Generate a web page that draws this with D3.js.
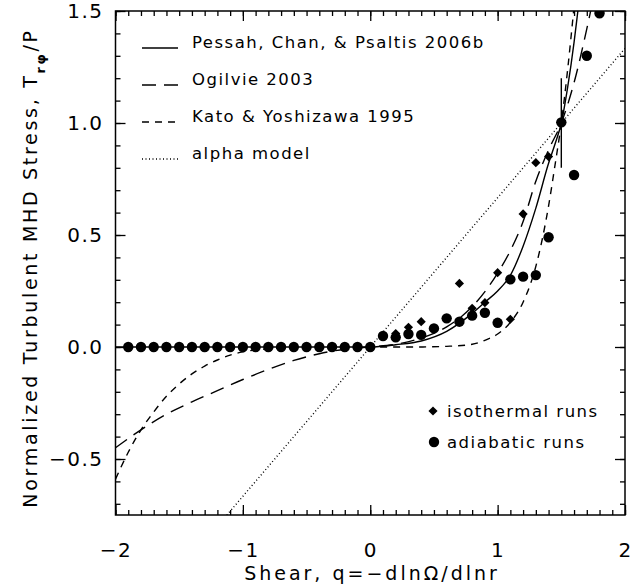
<!DOCTYPE html>
<html>
<head>
<meta charset="utf-8">
<script src="https://cdn.jsdelivr.net/npm/d3@7"></script>
<style>
    body { margin: 0; background: white; }
    svg { display: block; }
    text { font-family: "DejaVu Sans", sans-serif; fill: black; }
</style>
</head>
<body>
<div id="chart"></div>
<script>
// values
const xTicks = [-2, -1, 0, 1, 2];
const yTicks = [-0.5, 0.0, 0.5, 1.0, 1.5];

// adiabatic runs (circles)
const adiabaticQ = [-1.9, -1.8, -1.7, -1.6, -1.5, -1.4, -1.3, -1.2, -1.1, -1.0,
    -0.9, -0.8, -0.7, -0.6, -0.5, -0.4, -0.3, -0.2, -0.1, 0.0,
    0.1, 0.2, 0.3, 0.4, 0.5, 0.6, 0.7, 0.8, 0.9, 1.0, 1.1, 1.2, 1.3, 1.4, 1.5, 1.6, 1.7, 1.8];
const adiabaticT = [0, 0, 0, 0, 0, 0, 0, 0, 0, 0,
    0, 0, 0, 0, 0, 0, 0, 0, 0, 0,
    0.049, 0.043, 0.058, 0.054, 0.083, 0.128, 0.113, 0.140, 0.153, 0.108,
    0.302, 0.314, 0.321, 0.490, 1.003, 0.768, 1.30, 1.49];

// isothermal runs (diamonds)
const isothermalQ = [0.2, 0.3, 0.4, 0.7, 0.8, 0.9, 1.0, 1.1, 1.2, 1.3, 1.4];
const isothermalT = [0.06, 0.088, 0.113, 0.284, 0.173, 0.198, 0.332, 0.124, 0.594, 0.823, 0.85];

// error bar on the q = 1.5 normalisation point
const errQ = [1.5];
const errLow = [0.8];
const errHigh = [1.2];

// model curves
const pessahQ = [-2, -1, -0.5, 0, 0.2, 0.4, 0.6, 0.8, 0.9, 1.0, 1.1, 1.2, 1.3, 1.4, 1.45, 1.5, 1.55, 1.6, 1.63, 1.66];
const pessahT = [0, 0, 0, 0, 0.01, 0.027, 0.07, 0.15, 0.2, 0.25, 0.32, 0.45, 0.62, 0.82, 0.905, 1.0, 1.16, 1.36, 1.5, 1.64];

const ogilvieQ = [-2, -1.8, -1.6, -1.4, -1.2, -1.0, -0.8, -0.6, -0.4, -0.2, 0, 0.2, 0.4, 0.6, 0.8, 1.0, 1.1, 1.2, 1.3, 1.4, 1.5, 1.6, 1.7, 1.76];
const ogilvieT = [-0.45, -0.37, -0.30, -0.245, -0.195, -0.145, -0.10, -0.06, -0.03, -0.01, 0, 0.012, 0.04, 0.09, 0.18, 0.33, 0.43, 0.56, 0.74, 0.88, 1.0, 1.18, 1.42, 1.58];

const katoQ = [-2, -1.9, -1.8, -1.7, -1.6, -1.5, -1.4, -1.3, -1.2, -1.1, -1.0, -0.8, -0.6, -0.4, 0,
    0.4, 0.6, 0.8, 0.9, 1.0, 1.1, 1.2, 1.3, 1.35, 1.4, 1.45, 1.5, 1.55, 1.6];
const katoT = [-0.59, -0.47, -0.37, -0.29, -0.22, -0.165, -0.12, -0.085, -0.058, -0.036, -0.022, -0.008, -0.003, -0.001, 0,
    0.0003, 0.003, 0.012, 0.03, 0.058, 0.11, 0.2, 0.36, 0.48, 0.63, 0.81, 1.0, 1.24, 1.52];

const alphaQ = [-2, 2];
const alphaT = [-1.333, 1.333];

const legendNames = ["Pessah, Chan, & Psaltis 2006b", "Ogilvie 2003", "Kato & Yoshizawa 1995", "alpha model"];
const legendDash = ["none", "14,8", "7,6", "1,2.5"];

class ShearStressChart {

    constructor(el, props)
    {
        this.element = el;
        this.props = props;
        this.createChart();
    }

    createChart()
    {
        let me = this;
        this.svg = d3.select(me.element).append('svg')
                .attr('width', me.props.width)
                .attr('height', me.props.height);

        this.x = d3.scaleLinear().domain([-2, 2]).range([115.5, 625]);
        this.y = d3.scaleLinear().domain([-0.75, 1.5]).range([515, 11]);

        this.svg.append('defs')
                .append('clipPath')
                .attr('id', 'plotClip')
                .append('rect')
                .attr('x', 115.5)
                .attr('y', 11)
                .attr('width', 625 - 115.5)
                .attr('height', 515 - 11);

        this.drawAxes();
        this.drawCurves();
        this.drawPoints();
        this.drawLegend();
    }

    drawAxes()
    {
        let self = this;
        let x = self.x, y = self.y;
        let minorX = d3.range(-20, 21).map(d => d / 10);
        let minorY = d3.range(-7, 16).map(d => d / 10);

        // minor ticks on all four sides
        self.svg.append('g').attr('transform', 'translate(0,515)')
                .call(d3.axisBottom(x).tickValues(minorX).tickSize(-5).tickFormat(''));
        self.svg.append('g').attr('transform', 'translate(0,11)')
                .call(d3.axisTop(x).tickValues(minorX).tickSize(-5).tickFormat(''));
        self.svg.append('g').attr('transform', 'translate(115.5,0)')
                .call(d3.axisLeft(y).tickValues(minorY).tickSize(-5).tickFormat(''));
        self.svg.append('g').attr('transform', 'translate(625,0)')
                .call(d3.axisRight(y).tickValues(minorY).tickSize(-5).tickFormat(''));

        // major ticks with labels
        self.svg.append('g').attr('class', 'x-axis').attr('transform', 'translate(0,515)')
                .call(d3.axisBottom(x).tickValues(xTicks).tickSize(-10).tickPadding(28).tickFormat(d3.format('d')));
        self.svg.append('g').attr('transform', 'translate(0,11)')
                .call(d3.axisTop(x).tickValues(xTicks).tickSize(-10).tickFormat(''));
        self.svg.append('g').attr('class', 'y-axis').attr('transform', 'translate(115.5,0)')
                .call(d3.axisLeft(y).tickValues(yTicks).tickSize(-10).tickPadding(12).tickFormat(d3.format('.1f')));
        self.svg.append('g').attr('transform', 'translate(625,0)')
                .call(d3.axisRight(y).tickValues(yTicks).tickSize(-10).tickFormat(''));

        self.svg.selectAll('.domain').remove();
        self.svg.selectAll('.tick line').attr('stroke', 'black').attr('stroke-width', 1.3);
        self.svg.selectAll('.x-axis text, .y-axis text')
                .style('font-size', '20px')
                .style('letter-spacing', '1.5px')
                .attr('fill', 'black');

        self.svg.append('rect')
                .attr('x', 115.5).attr('y', 11)
                .attr('width', 625 - 115.5).attr('height', 515 - 11)
                .attr('fill', 'none')
                .attr('stroke', 'black')
                .attr('stroke-width', 1.5);

        // axis titles
        self.svg.append('text')
                .attr('x', 372).attr('y', 580)
                .attr('text-anchor', 'middle')
                .style('font-size', '19px')
                .style('letter-spacing', '3px')
                .text('Shear,  q=\u2212dln\u03A9/dlnr');

        let yt = self.svg.append('text')
                .attr('transform', 'translate(37,268) rotate(-90)')
                .attr('text-anchor', 'middle')
                .style('font-size', '19px')
                .style('letter-spacing', '2.7px');
        yt.append('tspan').text('Normalized Turbulent MHD Stress, T');
        yt.append('tspan').attr('baseline-shift', 'sub').style('font-size', '13px').style('font-weight', 'bold').text('r\u03C6');
        yt.append('tspan').text('/P');
    }

    drawCurves()
    {
        let self = this;
        let g = self.svg.append('g').attr('clip-path', 'url(#plotClip)');
        let line = d3.line()
                .x(d => self.x(d[0]))
                .y(d => self.y(d[1]))
                .curve(d3.curveMonotoneX);

        let curves = [
            {q: pessahQ, t: pessahT, dash: legendDash[0]},
            {q: ogilvieQ, t: ogilvieT, dash: legendDash[1]},
            {q: katoQ, t: katoT, dash: legendDash[2]},
            {q: alphaQ, t: alphaT, dash: legendDash[3]}
        ];

        g.selectAll('path.model')
                .data(curves)
                .enter()
                .append('path')
                .attr('class', 'model')
                .attr('d', c => line(d3.zip(c.q, c.t)))
                .attr('fill', 'none')
                .attr('stroke', 'black')
                .attr('stroke-width', 1.4)
                .attr('stroke-dasharray', c => c.dash);

        g.selectAll('line.err')
                .data(errQ)
                .enter()
                .append('line')
                .attr('class', 'err')
                .attr('x1', d => self.x(d)).attr('x2', d => self.x(d))
                .attr('y1', (d, i) => self.y(errLow[i]))
                .attr('y2', (d, i) => self.y(errHigh[i]))
                .attr('stroke', 'black')
                .attr('stroke-width', 1.4);
    }

    drawPoints()
    {
        let self = this;
        let g = self.svg.append('g').attr('clip-path', 'url(#plotClip)');
        let diamond = d3.symbol().type(d3.symbolSquare).size(42);

        g.selectAll('path.iso')
                .data(d3.zip(isothermalQ, isothermalT))
                .enter()
                .append('path')
                .attr('class', 'iso')
                .attr('d', diamond)
                .attr('transform', d => 'translate(' + self.x(d[0]) + ',' + self.y(d[1]) + ') rotate(45)')
                .attr('fill', 'black');

        g.selectAll('circle.adi')
                .data(d3.zip(adiabaticQ, adiabaticT))
                .enter()
                .append('circle')
                .attr('class', 'adi')
                .attr('cx', d => self.x(d[0]))
                .attr('cy', d => self.y(d[1]))
                .attr('r', 5.2)
                .attr('fill', 'black');
    }

    drawLegend()
    {
        let self = this;
        let rows = self.svg.append('g')
                .selectAll('g.row')
                .data(legendNames)
                .enter()
                .append('g')
                .attr('class', 'row')
                .attr('transform', (d, i) => 'translate(0,' + (48 + i * 37) + ')');

        rows.append('line')
                .attr('x1', 142).attr('x2', 178)
                .attr('y1', 0).attr('y2', 0)
                .attr('stroke', 'black')
                .attr('stroke-width', 1.4)
                .attr('stroke-dasharray', (d, i) => legendDash[i]);

        rows.append('text')
                .attr('x', 192).attr('y', 0)
                .style('font-size', '16.5px')
                .style('letter-spacing', '1.5px')
                .text(d => d);

        // symbol key, lower right
        let diamond = d3.symbol().type(d3.symbolSquare).size(42);
        self.svg.append('path')
                .attr('d', diamond)
                .attr('transform', 'translate(433,411) rotate(45)');
        self.svg.append('circle')
                .attr('cx', 434).attr('cy', 442).attr('r', 5.2);
        self.svg.append('text')
                .attr('x', 447).attr('y', 417)
                .style('font-size', '16.5px')
                .style('letter-spacing', '1.5px')
                .text('isothermal runs');
        self.svg.append('text')
                .attr('x', 447).attr('y', 448)
                .style('font-size', '16.5px')
                .style('letter-spacing', '1.5px')
                .text('adiabatic runs');
    }
}

new ShearStressChart(document.getElementById('chart'), {width: 640, height: 585});
</script>
</body>
</html>
